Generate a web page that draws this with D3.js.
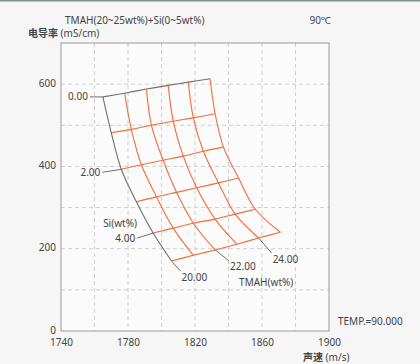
<!DOCTYPE html>
<html>
<head>
<meta charset="utf-8">
<script src="https://cdn.jsdelivr.net/npm/d3@7"></script>
<style>
  html, body { margin: 0; padding: 0; background: #f6f6f6; }
  svg { display: block; }
  text { font-family: "Noto Sans", "Noto Sans CJK SC", sans-serif; fill: #444; }
</style>
</head>
<body>
<div id="chart"></div>
<script>
// TMAH wt% columns, Si wt% rows
const tmahLevels = [20, 21, 22, 23, 24, 25];
const siLevels = [0, 1, 2, 3, 4, 5];

// sound velocity (m/s) per Si row, one value per TMAH level
const speedBySi = [
  [1765, 1778, 1791, 1804, 1816, 1829],
  [1770, 1782, 1794, 1807, 1819, 1832],
  [1776, 1788, 1801, 1813, 1825, 1837],
  [1785, 1797, 1809, 1821, 1834, 1846],
  [1795, 1807, 1819, 1832, 1844, 1856],
  [1806, 1819, 1832, 1845, 1858, 1871]
];

// conductivity (mS/cm) per Si row
const condBySi = [
  [569, 578, 588, 597, 605, 613],
  [482, 490, 500, 510, 518, 528],
  [393, 404, 415, 425, 437, 447],
  [314, 326, 337, 348, 360, 372],
  [238, 250, 262, 272, 284, 296],
  [170, 184, 197, 211, 226, 240]
];

const xTicks = [1740, 1780, 1820, 1860, 1900];
const yTicks = [0, 200, 400, 600];

const W = 420, H = 364;
const margin = { top: 43, right: 91, bottom: 33, left: 61 };
const width = W - margin.left - margin.right;
const height = H - margin.top - margin.bottom;

const root = d3.select('#chart').append('svg')
  .attr('width', W)
  .attr('height', H);

// thin frame line on top edge
root.append('rect').attr('x', 0).attr('y', 0).attr('width', W).attr('height', 1.5).attr('fill', '#7d9486');

const svg = root.append('g')
  .attr('transform', `translate(${margin.left},${margin.top})`);

const x = d3.scaleLinear().domain([1740, 1900]).range([0, width]);
const y = d3.scaleLinear().domain([0, 700]).range([height, 0]);

svg.append('rect')
  .attr('width', width).attr('height', height)
  .attr('fill', '#fbfbfb');

// dashed grid
svg.append('g')
  .selectAll('line')
  .data(d3.range(1760, 1900, 20))
  .enter().append('line')
  .attr('x1', d => x(d)).attr('x2', d => x(d))
  .attr('y1', 0).attr('y2', height)
  .attr('stroke', '#cfcfcf').attr('stroke-dasharray', '4,3');

svg.append('g')
  .selectAll('line')
  .data(d3.range(100, 700, 100))
  .enter().append('line')
  .attr('y1', d => y(d)).attr('y2', d => y(d))
  .attr('x1', 0).attr('x2', width)
  .attr('stroke', '#cfcfcf').attr('stroke-dasharray', '4,3');

svg.append('rect')
  .attr('width', width).attr('height', height)
  .attr('fill', 'none').attr('stroke', '#9a9a9a').attr('stroke-width', 1);

// axes
const xAxis = svg.append('g')
  .attr('transform', `translate(0,${height})`)
  .call(d3.axisBottom(x).tickValues(xTicks).tickSize(0).tickPadding(8).tickFormat(d3.format('d')));
const yAxis = svg.append('g')
  .call(d3.axisLeft(y).tickValues(yTicks).tickSize(0).tickPadding(5));
[xAxis, yAxis].forEach(a => {
  a.select('.domain').remove();
  a.selectAll('text').style('font-size', '10px').attr('fill', '#444')
    .style('font-family', '"Noto Sans", sans-serif');
});
yAxis.selectAll('text').attr('dy', '0.2em');

// mesh
const line = d3.line()
  .x(p => x(p[0])).y(p => y(p[1]))
  .curve(d3.curveCatmullRom);

const point = (i, j) => [speedBySi[i][j], condBySi[i][j]];
const orange = '#f06d3d', gray = '#6f6f6f';

// Si lines (constant Si, TMAH 20 -> 25)
siLevels.forEach((s, i) => {
  svg.append('path')
    .attr('d', line(tmahLevels.map((t, j) => point(i, j))))
    .attr('fill', 'none')
    .attr('stroke', i === 0 ? gray : orange)
    .attr('stroke-width', 1.1);
});

// TMAH curves (constant TMAH, Si 0 -> 5)
tmahLevels.forEach((t, j) => {
  svg.append('path')
    .attr('d', line(siLevels.map((s, i) => point(i, j))))
    .attr('fill', 'none')
    .attr('stroke', j === 0 ? gray : orange)
    .attr('stroke-width', 1.1);
});

// annotations
const lbl = (tx, ty, str, anchor) => svg.append('text')
  .attr('x', tx).attr('y', ty).attr('dy', '0.35em')
  .attr('text-anchor', anchor || 'start')
  .style('font-size', '10px')
  .text(str);

const leader = (p, dx, dy) => svg.append('line')
  .attr('x1', x(p[0])).attr('y1', y(p[1]))
  .attr('x2', x(p[0]) + dx).attr('y2', y(p[1]) + dy)
  .attr('stroke', gray).attr('stroke-width', 1);

// Si labels on TMAH=20 curve
[[0, '0.00', -13, 0], [2, '2.00', -19, 3], [4, '4.00', -16, 5]].forEach(([i, s, dx, dy]) => {
  const p = point(i, 0);
  leader(p, dx, dy);
  lbl(x(p[0]) + dx - 2, y(p[1]) + dy, s, 'end');
});
lbl(x(point(4, 0)[0]) - 50, y(point(4, 0)[1]) - 10, 'Si(wt%)', 'start');

// TMAH labels at the Si=5 end
[[0, '20.00', 9, 10], [2, '22.00', 14, 11], [4, '24.00', 13, 15]].forEach(([j, s, dx, dy]) => {
  const p = point(5, j);
  leader(p, dx, dy);
  lbl(x(p[0]) + dx + 1, y(p[1]) + dy + 6, s, 'start');
});
lbl(x(point(5, 2)[0]) + 24, y(point(5, 2)[1]) + 33, 'TMAH(wt%)', 'start');

// titles
root.append('text').attr('x', 65).attr('y', 20).attr('dy', '0.35em')
  .style('font-size', '10px').text('TMAH(20~25wt%)+Si(0~5wt%)');
root.append('text').attr('x', 331).attr('y', 20).attr('dy', '0.35em').attr('text-anchor', 'end')
  .style('font-size', '10px').text('90℃');

const yt = root.append('text').attr('x', 28).attr('y', 33).attr('dy', '0.35em').style('font-size', '10px');
yt.append('tspan').style('font-weight', 'bold').style('font-family', '"Noto Sans CJK SC"').text('电导率');
yt.append('tspan').text(' (mS/cm)');

const xt = root.append('text').attr('x', 303).attr('y', 357).attr('dy', '0.35em').style('font-size', '10px');
xt.append('tspan').style('font-weight', 'bold').style('font-family', '"Noto Sans CJK SC"').text('声速');
xt.append('tspan').text(' (m/s)');

root.append('text').attr('x', 338).attr('y', 321).attr('dy', '0.35em')
  .style('font-size', '10px').text('TEMP.=90.000');
</script>
</body>
</html>
